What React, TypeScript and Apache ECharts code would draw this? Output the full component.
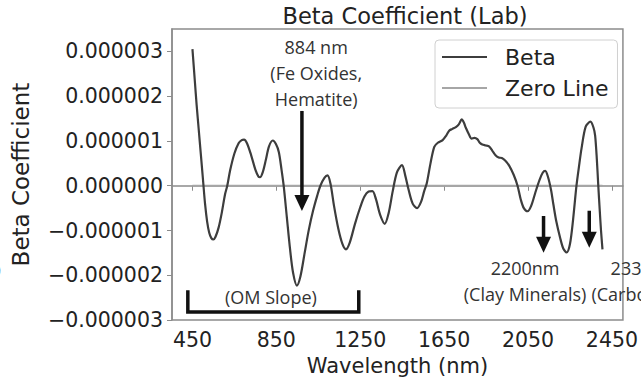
import React, { useEffect, useRef } from "react";
import * as echarts from "echarts";

const chartTitle = "Beta Coefficient (Lab)";
const xAxisName = "Wavelength (nm)";
const yAxisName = "Beta Coefficient";
const seriesNames = ["Beta", "Zero Line"];

const wavelengths = [
  450, 462, 470, 480, 490, 500, 510, 520, 530, 540, 550, 560, 575, 590, 605, 616, 630, 650, 670, 685,
  696, 710, 730, 750, 765, 772, 785, 800, 815, 833, 848, 862, 875, 885, 900, 915, 930, 948, 965, 985,
  1005, 1025, 1045, 1060, 1080, 1094, 1108, 1125, 1145, 1165, 1182, 1200, 1225, 1250, 1270, 1290, 1308,
  1325, 1345, 1367, 1385, 1405, 1425, 1449, 1465, 1480, 1500, 1521, 1540, 1555, 1567, 1585, 1603, 1620,
  1643, 1660, 1674, 1690, 1706, 1720, 1734, 1745, 1753, 1768, 1781, 1795, 1808, 1820, 1832, 1848, 1864,
  1880, 1895, 1910, 1925, 1942, 1960, 1982, 2000, 2015, 2030, 2048, 2065, 2085, 2105, 2120, 2132, 2145,
  2160, 2171, 2185, 2203, 2218, 2234, 2250, 2265, 2281, 2295, 2305, 2325, 2348, 2362, 2370, 2378, 2385,
  2392, 2398, 2405,
];

// Beta coefficient in units of 1e-6
const betaMicro = [
  3.05, 2.3, 1.8, 1.25, 0.7, 0.15, -0.4, -0.8, -1.05, -1.17, -1.2, -1.14, -0.93, -0.6, -0.2, 0.0, 0.35, 0.72, 0.95, 1.02,
  1.03, 0.95, 0.68, 0.36, 0.2, 0.19, 0.3, 0.58, 0.88, 1.01, 0.93, 0.75, 0.35, 0.0, -0.7, -1.4, -1.95, -2.23, -2.02, -1.5,
  -0.98, -0.56, -0.22, 0.0, 0.18, 0.23, 0.05, -0.45, -0.95, -1.3, -1.42, -1.27, -0.85, -0.48, -0.24, -0.13, -0.12,
  -0.3, -0.65, -0.85, -0.62, -0.12, 0.3, 0.46, 0.22, -0.08, -0.4, -0.5, -0.36, -0.12, 0.05, 0.5, 0.87, 0.96,
  1.02, 1.12, 1.23, 1.27, 1.31, 1.37, 1.48, 1.4, 1.3, 1.15, 1.05, 1.07, 1.04, 0.96, 0.92, 0.9, 0.88,
  0.78, 0.68, 0.63, 0.62, 0.56, 0.45, 0.24, 0.0, -0.3, -0.5, -0.57, -0.45, -0.15, 0.13, 0.29, 0.33, 0.2,
  -0.1, -0.42, -0.8, -1.16, -1.4, -1.49, -1.3, -0.75, 0.0, 0.5, 0.83, 1.32, 1.43, 1.3, 1.12, 0.6, 0.0,
  -0.55, -1.0, -1.42,
];

const zeroLineX = [450, 2405];
const zeroLineY = [0, 0];

const xTicks = [450, 850, 1250, 1650, 2050, 2450];
const yTicks = [-3, -2, -1, 0, 1, 2, 3];

// annotations (data coordinates: wavelength, beta in 1e-6)
const arrows = [
  { x: 972, from: 1.67, to: -0.565 },
  { x: 2124, from: -0.675, to: -1.494 },
  { x: 2342, from: -0.558, to: -1.384 },
];
const notes = [
  { x: 1040, y: 2.51, text: "884 nm\n(Fe Oxides,\nHematite)" },
  { x: 2036, y: -2.13, text: "2200nm\n(Clay Minerals)" },
  { x: 2608, y: -2.13, text: "2335nm\n(Carbonates)" },
  { x: 824, y: -2.49, text: "(OM Slope)" },
];
const bracket = { x0: 428, x1: 1243, top: -2.334, bottom: -2.82 };

const FONT = "DejaVu Sans";
const NOTE_FONT = "Open Sans";
const TEXT = "#222";
const SPINE = "#8c8c8c";

function fmt(v: number) {
  const s = (Math.abs(v) * 1e-6).toFixed(6);
  return (v < 0 ? "\u2212" : "") + s;
}

export default function App() {
  const ref = useRef<HTMLDivElement>(null);
  useEffect(() => {
    if (!ref.current) return;
    const chart = echarts.init(ref.current, undefined, { renderer: "svg" });
    const option: any = {
      animation: false,
      backgroundColor: "#fff",
      title: {
        text: chartTitle,
        left: 400,
        textAlign: "center",
        top: -1,
        textStyle: { fontFamily: FONT, fontSize: 22.5, fontWeight: "normal", color: TEXT },
      },
      grid: {
        left: 172,
        right: 13,
        top: 29,
        bottom: 58,
        show: true,
        borderColor: SPINE,
        borderWidth: 1.5,
      },
      legend: {
        data: seriesNames,
        orient: "vertical",
        left: 435,
        top: 40,
        itemWidth: 45,
        itemHeight: 12,
        itemGap: 7,
        padding: [5, 9, 8, 6],
        borderColor: "#d0d0d0",
        borderWidth: 1,
        borderRadius: 4,
        backgroundColor: "rgba(255,255,255,0.85)",
        itemStyle: { opacity: 0 },
        textStyle: {
          fontFamily: FONT,
          fontSize: 22,
          color: TEXT,
          lineHeight: 24,
          padding: [0, 0, 0, 13],
        },
      },
      xAxis: {
        type: "value",
        min: 352.5,
        max: 2502.5,
        name: xAxisName,
        nameLocation: "middle",
        nameGap: 30,
        nameTextStyle: { fontFamily: FONT, fontSize: 21, color: TEXT },
        axisLine: { show: true, lineStyle: { color: SPINE, width: 1.5 } },
        axisTick: { show: true, length: 5, customValues: xTicks, lineStyle: { color: SPINE } },
        axisLabel: {
          customValues: xTicks,
          margin: 9,
          fontFamily: FONT,
          fontSize: 20.5,
          color: TEXT,
          formatter: (v: number) => String(v),
        },
        splitLine: { show: false },
      },
      yAxis: {
        type: "value",
        min: -3,
        max: 3.5,
        interval: 1,
        name: yAxisName,
        nameLocation: "middle",
        nameGap: 140,
        nameTextStyle: { fontFamily: FONT, fontSize: 23, color: TEXT },
        axisLine: { show: true, lineStyle: { color: SPINE, width: 1.5 } },
        axisTick: { show: true, length: 5, customValues: yTicks, lineStyle: { color: SPINE } },
        axisLabel: {
          customValues: yTicks,
          margin: 9,
          fontFamily: FONT,
          fontSize: 20.5,
          color: TEXT,
          formatter: (v: number) => fmt(v),
        },
        splitLine: { show: false },
      },
      series: [
        {
          name: seriesNames[0],
          type: "line",
          data: wavelengths.map((w, i) => [w, betaMicro[i]]),
          smooth: 0.3,
          symbol: "none",
          z: 3,
          lineStyle: { color: "#3d3d3d", width: 2.2 },
          itemStyle: { color: "#3d3d3d" },
        },
        {
          name: seriesNames[1],
          type: "line",
          data: zeroLineX.map((w, i) => [w, zeroLineY[i]]),
          symbol: "none",
          z: 2,
          lineStyle: { color: "#a6a6a6", width: 2 },
          itemStyle: { color: "#a6a6a6" },
        },
      ],
    };
    chart.setOption(option);

    const px = (x: number, y: number) => chart.convertToPixel({ gridIndex: 0 }, [x, y]) as number[];
    const elements: any[] = [];
    arrows.forEach((a) => {
      const p0 = px(a.x, a.from);
      const p1 = px(a.x, a.to);
      const headLen = 16;
      elements.push({
        type: "line",
        shape: { x1: p0[0], y1: p0[1], x2: p1[0], y2: p1[1] - headLen + 2 },
        style: { stroke: "#111", lineWidth: 3.5 },
        z: 10,
      });
      elements.push({
        type: "polygon",
        shape: {
          points: [
            [p1[0] - 7.5, p1[1] - headLen],
            [p1[0] + 7.5, p1[1] - headLen],
            [p1[0], p1[1]],
          ],
        },
        style: { fill: "#111" },
        z: 10,
      });
    });
    notes.forEach((n) => {
      const p = px(n.x, n.y);
      elements.push({
        type: "text",
        x: p[0],
        y: p[1],
        style: {
          text: n.text,
          fontFamily: NOTE_FONT,
          fontSize: 18,
          lineHeight: 26,
          fill: "#333",
          align: "center",
          verticalAlign: "middle",
        },
        z: 10,
      });
    });
    const b0 = px(bracket.x0, bracket.top);
    const b1 = px(bracket.x1, bracket.bottom);
    elements.push({
      type: "polyline",
      shape: {
        points: [
          [b0[0], b0[1]],
          [b0[0], b1[1]],
          [b1[0], b1[1]],
          [b1[0], b0[1]],
        ],
      },
      style: { stroke: "#111", lineWidth: 3.5, fill: null },
      z: 10,
    });
    elements.push({
      type: "text",
      x: -6,
      y: 270,
      style: { text: ")", fontFamily: FONT, fontSize: 20, fill: TEXT, verticalAlign: "middle" },
    });
    chart.setOption({ graphic: { elements } });

    return () => chart.dispose();
  }, []);
  return <div ref={ref} style={{ width: 641, height: 381, position: "absolute", left: 0, top: 0 }} />;
}
